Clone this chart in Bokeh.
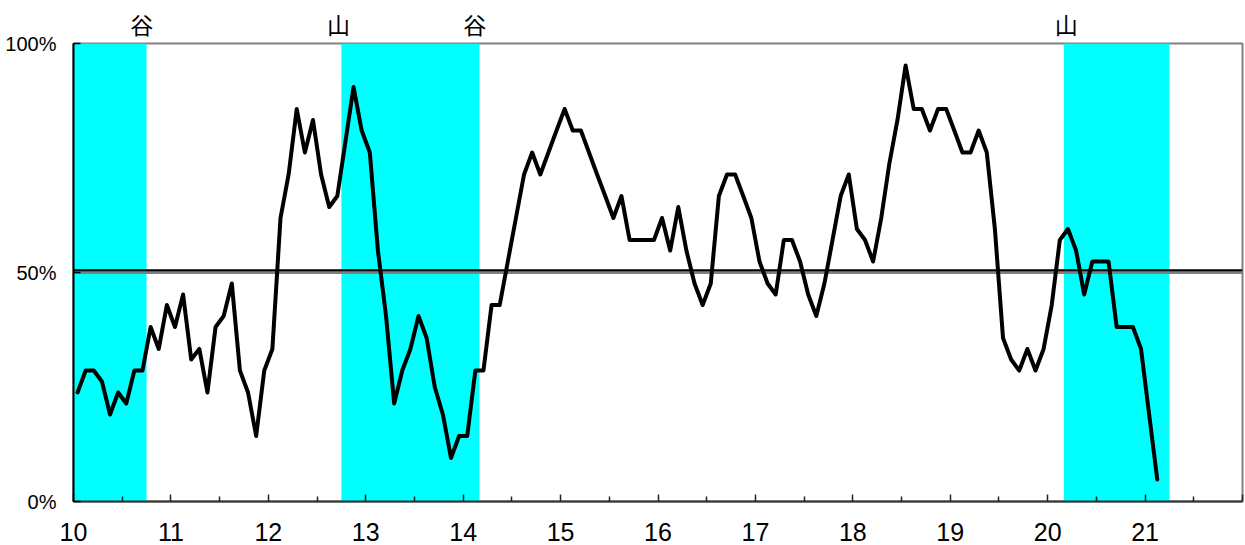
import numpy as np
from bokeh.plotting import figure
from bokeh.models import FixedTicker, LinearAxis, Range1d, Span
from bokeh.embed import file_html
from bokeh.resources import INLINE

# Monthly diffusion index (%), Jan 2010 .. Feb 2021
di = [
    23.8, 28.6, 28.6, 26.2, 19.0, 23.8, 21.4, 28.6, 28.6, 38.1, 33.3, 42.9,
    38.1, 45.2, 31.0, 33.3, 23.8, 38.1, 40.5, 47.6, 28.6, 23.8, 14.3, 28.6,
    33.3, 61.9, 71.4, 85.7, 76.2, 83.3, 71.4, 64.3, 66.7, 78.6, 90.5, 81.0,
    76.2, 54.8, 40.5, 21.4, 28.6, 33.3, 40.5, 35.7, 25.0, 19.0, 9.5, 14.3,
    14.3, 28.6, 28.6, 42.9, 42.9, 52.4, 61.9, 71.4, 76.2, 71.4, 76.2, 81.0,
    85.7, 81.0, 81.0, 76.2, 71.4, 66.7, 61.9, 66.7, 57.1, 57.1, 57.1, 57.1,
    61.9, 54.8, 64.3, 54.8, 47.6, 42.9, 47.6, 66.7, 71.4, 71.4, 66.7, 61.9,
    52.4, 47.6, 45.2, 57.1, 57.1, 52.4, 45.2, 40.5, 47.6, 57.1, 66.7, 71.4,
    59.5, 57.1, 52.4, 61.9, 73.8, 83.3, 95.2, 85.7, 85.7, 81.0, 85.7, 85.7,
    81.0, 76.2, 76.2, 81.0, 76.2, 59.5, 35.7, 31.0, 28.6, 33.3, 28.6, 33.3,
    42.9, 57.1, 59.5, 54.8, 45.2, 52.4, 52.4, 52.4, 38.1, 38.1, 38.1, 33.3,
    19.0, 4.8,
]
start_year = 10
months = np.arange(len(di))
x_month = start_year + (months + 0.5) / 12.0

# shaded periods (in years, 2-digit)
shade_start = [10.0, 12.75, 20.1667]
shade_end = [10.75, 14.1667, 21.25]

# turning-point labels
turn_text = ["谷", "山", "谷", "山"]
turn_x = [10.70, 12.72, 14.12, 20.19]

year_ticks = list(range(10, 23))
half_ticks = [y + 0.5 for y in range(10, 22)]
x_labels = {y: str(y) for y in range(10, 22)}
x_labels[22] = ""
y_ticks = [0, 50, 100]
y_labels = {0: "0%", 50: "50%", 100: "100%"}

p = figure(width=1245, height=553, x_range=Range1d(10, 22), y_range=Range1d(0, 100),
           output_backend="svg", toolbar_location=None,
           min_border_left=73, min_border_right=3, min_border_top=43, min_border_bottom=52)
p.xgrid.visible = False
p.ygrid.visible = False
p.outline_line_color = "#808080"
p.outline_line_width = 2
p.background_fill_color = "white"
p.border_fill_color = "white"

xa = p.xaxis[0]
xa.ticker = FixedTicker(ticks=year_ticks, minor_ticks=half_ticks)
xa.major_label_overrides = x_labels
xa.major_tick_in = 7
xa.major_tick_out = 0
xa.minor_tick_in = 5
xa.minor_tick_out = 0
xa.major_tick_line_color = "#222222"
xa.minor_tick_line_color = "#222222"
xa.major_tick_line_width = 1.5
xa.minor_tick_line_width = 1.5
xa.axis_line_color = "#333333"
xa.axis_line_width = 2
xa.major_label_text_font = "Liberation Sans"
xa.major_label_text_font_size = "25px"
xa.major_label_text_color = "black"
xa.major_label_standoff = 21

ya = p.yaxis[0]
ya.ticker = FixedTicker(ticks=y_ticks, minor_ticks=[])
ya.major_label_overrides = y_labels
ya.major_tick_in = 7
ya.major_tick_out = 0
ya.minor_tick_line_color = None
ya.major_tick_line_color = "black"
ya.major_tick_line_width = 1.5
ya.axis_line_color = "black"
ya.axis_line_width = 2
ya.major_label_text_font = "Liberation Sans"
ya.major_label_text_font_size = "20px"
ya.major_label_text_color = "black"
ya.major_label_standoff = 17

# turning-point markers as a label-only axis above the plot
top_axis = LinearAxis(ticker=FixedTicker(ticks=turn_x, minor_ticks=[]),
                      major_label_overrides={tx: tt for tx, tt in zip(turn_x, turn_text)},
                      axis_line_color=None, major_tick_line_color=None,
                      minor_tick_line_color=None,
                      major_label_text_font="Noto Sans CJK JP",
                      major_label_text_font_size="23px",
                      major_label_text_color="black",
                      major_label_standoff=-3)
p.add_layout(top_axis, "above")

p.quad(left=shade_start, right=shade_end, bottom=0, top=100,
       fill_color="#00FFFF", line_color=None, level="image")

p.add_layout(Span(location=50, dimension="width", line_color="#808080",
                  line_width=3, level="underlay"))
p.add_layout(Span(location=50.5, dimension="width", line_color="black",
                  line_width=2, level="underlay"))

p.line(x_month, di, line_color="black", line_width=4,
       line_join="round", line_cap="round")

open("out.html", "w").write(file_html(p, INLINE))
